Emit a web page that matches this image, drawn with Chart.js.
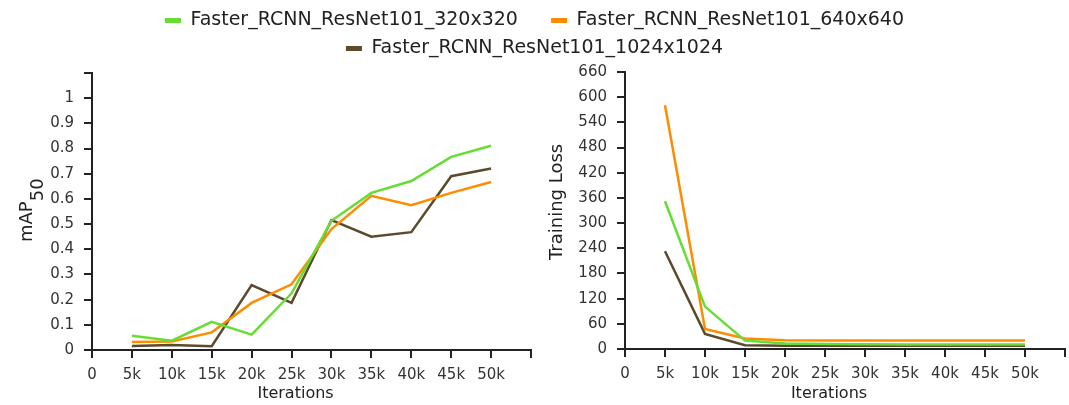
<!DOCTYPE html>
<html>
<head>
<meta charset="utf-8">
<script src="https://cdn.jsdelivr.net/npm/chart.js@4.4.1/dist/chart.umd.min.js"></script>
<style>
    body { margin: 0; background: #fff; }
    #wrap { position: relative; width: 1069px; height: 405px; overflow: hidden; }
    canvas { position: absolute; }
</style>
</head>
<body>
<div id="wrap">
    <canvas id="legendChart" width="1069" height="140" style="left:0;top:2px"></canvas>
    <canvas id="mapChart" width="545" height="345" style="left:0;top:60px"></canvas>
    <canvas id="lossChart" width="534" height="345" style="left:535px;top:60px"></canvas>
</div>
<script>
const iterations = [5000, 10000, 15000, 20000, 25000, 30000, 35000, 40000, 45000, 50000];
const seriesNames = ['Faster_RCNN_ResNet101_320x320', 'Faster_RCNN_ResNet101_640x640', 'Faster_RCNN_ResNet101_1024x1024'];
const seriesColors = ['#66dd33', '#ff8c00', '#5b4a2c'];

// mAP50 per model
const map320 = [0.057, 0.037, 0.112, 0.061, 0.225, 0.513, 0.624, 0.671, 0.767, 0.811];
const map640 = [0.032, 0.034, 0.070, 0.187, 0.261, 0.480, 0.612, 0.575, 0.624, 0.667];
const map1024 = [0.016, 0.020, 0.015, 0.258, 0.187, 0.516, 0.450, 0.468, 0.690, 0.721];

// training loss per model
const loss320 = [352, 101, 20, 13, 12, 11.5, 11, 11, 11, 11];
const loss640 = [581, 48, 25, 21, 20.5, 20, 20, 20, 20, 20];
const loss1024 = [233, 36, 9, 8, 8, 8, 8, 8, 8, 8];

const xMax = 55000, xStep = 5000;
const mapMax = 1.1, mapStep = 0.1;
const lossMax = 660, lossStep = 60;

const fontFamily = "'DejaVu Sans', Verdana, sans-serif";
const tickFont = { family: fontFamily, size: 15 };
const axisColor = '#222';

function toPoints(values) {
    return values.map((v, i) => ({ x: iterations[i], y: v }));
}

function makeDatasets(seriesValues) {
    return seriesValues.map((vals, i) => ({
        label: seriesNames[i],
        data: toPoints(vals),
        borderColor: seriesColors[i],
        backgroundColor: seriesColors[i],
        borderWidth: 2.5,
        pointRadius: 0,
        tension: 0
    }));
}

const gridOpts = { drawOnChartArea: false, drawTicks: true, tickLength: 8, color: axisColor, lineWidth: 2 };
const borderOpts = { display: true, color: axisColor, width: 2 };

function xScale(height) {
    return {
        type: 'linear', min: 0, max: xMax,
        grid: gridOpts, border: borderOpts,
        ticks: {
            stepSize: xStep, autoSkip: false, maxRotation: 0, padding: 8,
            font: tickFont, color: '#333',
            callback: v => v === 0 ? '0' : (v >= xMax ? '' : (v / 1000) + 'k')
        },
        afterFit: s => { s.height = height; s.paddingRight = 0; }
    };
}

function yScale(max, step, width, callback) {
    const ticks = { stepSize: step, padding: 10, font: tickFont, color: '#333' };
    if (callback) ticks.callback = callback;
    return {
        min: 0, max: max,
        grid: gridOpts, border: borderOpts,
        ticks: ticks,
        afterFit: s => { s.width = width; s.paddingTop = 0; }
    };
}

// axis titles drawn by hand so the subscript in mAP50 works
function axisTitles(yParts, yX, yBottom) {
    return {
        id: 'axisTitles',
        afterDraw(chart) {
            const ctx = chart.ctx;
            const xs = chart.scales.x;
            ctx.save();
            ctx.fillStyle = axisColor;
            ctx.font = '16px ' + fontFamily;
            ctx.textAlign = 'center';
            ctx.textBaseline = 'middle';
            const cx = (xs.left + xs.getPixelForValue(iterations[iterations.length - 1])) / 2 + 4;
            ctx.fillText('Iterations', cx, 334);

            ctx.translate(yX, yBottom);
            ctx.rotate(-Math.PI / 2);
            ctx.textAlign = 'left';
            ctx.textBaseline = 'alphabetic';
            ctx.font = '18px ' + fontFamily;
            let offset = 0;
            yParts.forEach(p => {
                ctx.fillText(p.text, offset, p.shift);
                offset += ctx.measureText(p.text).width;
            });
            ctx.restore();
        }
    };
}

// Legend (shared by both panels)
new Chart(document.getElementById('legendChart'), {
    type: 'line',
    data: { datasets: seriesNames.map((n, i) => ({ label: n, data: [], borderColor: seriesColors[i], backgroundColor: seriesColors[i] })) },
    options: {
        responsive: false,
        animation: false,
        events: [],
        scales: { x: { display: false }, y: { display: false } },
        plugins: {
            tooltip: { enabled: false },
            legend: {
                position: 'top',
                labels: {
                    font: { family: fontFamily, size: 19 },
                    color: axisColor,
                    boxWidth: 16,
                    boxHeight: 5,
                    padding: 9,
                    generateLabels(chart) {
                        const items = Chart.defaults.plugins.legend.labels.generateLabels(chart);
                        items.forEach(it => { it.lineWidth = 0; });
                        items[0].text += '    ';
                        return items;
                    }
                }
            }
        }
    }
});

// mAP50 panel
new Chart(document.getElementById('mapChart'), {
    type: 'line',
    data: { datasets: makeDatasets([map320, map640, map1024]) },
    options: {
        responsive: false,
        animation: false,
        layout: { padding: { top: 13, right: 14, left: 0, bottom: 0 } },
        plugins: { legend: { display: false }, tooltip: { enabled: false } },
        scales: {
            x: xScale(55),
            y: yScale(mapMax, mapStep, 92, v => v > 1.05 ? '' : String(Math.round(v * 10) / 10))
        }
    },
    plugins: [axisTitles([{ text: 'mAP', shift: 0 }, { text: '50', shift: 11 }], 32, 182)]
});

// Training loss panel
new Chart(document.getElementById('lossChart'), {
    type: 'line',
    data: { datasets: makeDatasets([loss320, loss640, loss1024]) },
    options: {
        responsive: false,
        animation: false,
        layout: { padding: { top: 12, right: 4, left: 0, bottom: 0 } },
        plugins: { legend: { display: false }, tooltip: { enabled: false } },
        scales: {
            x: xScale(56),
            y: yScale(lossMax, lossStep, 90)
        }
    },
    plugins: [axisTitles([{ text: 'Training Loss', shift: 0 }], 27, 200)]
});
</script>
</body>
</html>
